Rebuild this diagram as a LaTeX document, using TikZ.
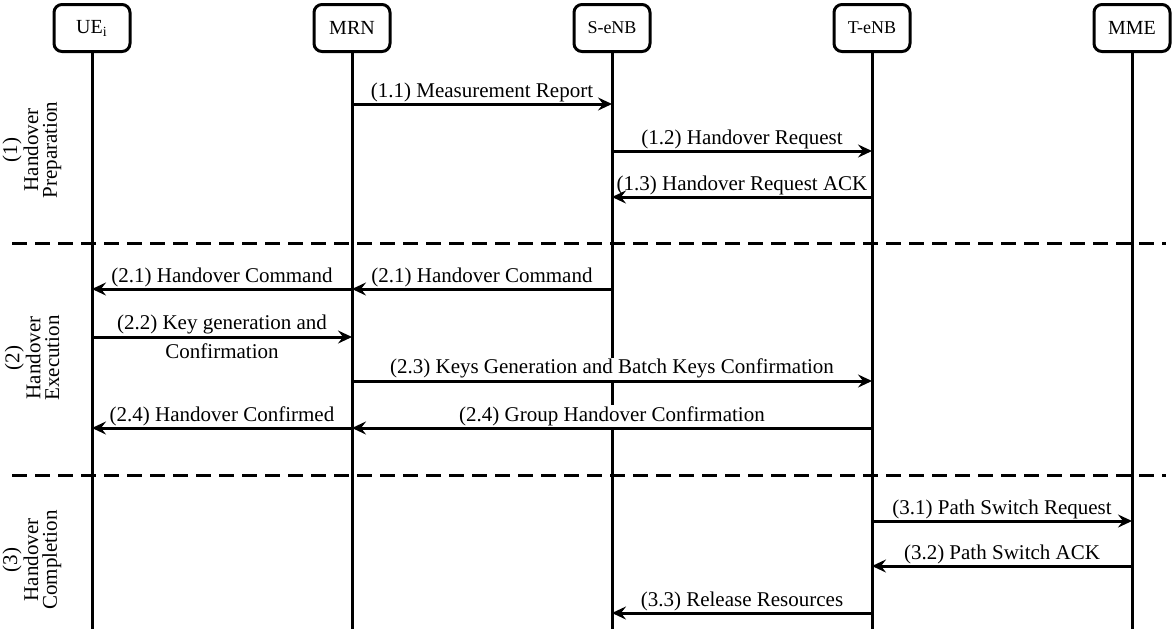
\documentclass[tikz,border=0pt]{standalone}
\usepackage{fontspec}
\setmainfont{Liberation Serif}
\usetikzlibrary{arrows.meta,calc}

\begin{document}
\begin{tikzpicture}[x=0.5pt, y=-0.5pt,
    actor/.style={draw, line width=1.5pt, rounded corners=4pt, minimum width=38pt, minimum height=23.5pt, inner sep=0pt, font=\fontsize{10}{12}\selectfont},
    life/.style={line width=1.5pt},
    msg/.style={line width=1.5pt, -{Stealth[length=7pt, width=6.5pt, inset=2.5pt]}},
    lbl/.style={fill=white, inner sep=0.5pt, behind path, font=\fontsize{10.5}{12.6}\selectfont},
    phase/.style={rotate=90, align=center, font=\fontsize{10.5}{9.4}\selectfont},
    sep/.style={line width=1.5pt, dash pattern=on 7.5pt off 4pt}]
    \useasboundingbox(0,0)rectangle(1174,629);
    \coordinate(bot)at(0,629);
    % entities
    \node[actor](ue)at(92,28){UE\textsubscript{i}};
    \node[actor](mrn)at(352,28){MRN};
    \node[actor, font=\fontsize{9}{11}\selectfont](senb)at(612,28){S-eNB};
    \node[actor, font=\fontsize{9}{11}\selectfont](tenb)at(872,28){T-eNB};
    \node[actor](mme)at(1132,28){MME};
    % lifelines
    \path[draw, life](ue)to(ue|-bot);
    \path[draw, life](mrn)to(mrn|-bot);
    \path[draw, life](senb)to(senb|-bot);
    \path[draw, life](tenb)to(tenb|-bot);
    \path[draw, life](mme)to(mme|-bot);
    % phases
    \node[phase](p1)at(32,150){(1)\\Handover\\Preparation};
    \node[phase](p2)at(32,358){(2)\\Handover\\Execution};
    \node[phase](p3)at(32,560){(3)\\Handover\\Completion};
    \coordinate(s1l)at(12,243); \coordinate(s1r)at(1166,243);
    \coordinate(s2l)at(12,475); \coordinate(s2r)at(1166,475);
    \path[draw, sep](s1l)to(s1r);
    \path[draw, sep](s2l)to(s2r);
    % message rows
    \coordinate(m11)at(0,104);
    \coordinate(m12)at(0,151);
    \coordinate(m13)at(0,197);
    \coordinate(m21)at(0,289);
    \coordinate(m22)at(0,337);
    \coordinate(m23)at(0,381);
    \coordinate(m24)at(0,428);
    \coordinate(m31)at(0,521);
    \coordinate(m32)at(0,566);
    \coordinate(m33)at(0,613);
    % (1) preparation
    \path[draw, msg](mrn|-m11)to node[lbl, above]{(1.1) Measurement Report}(senb|-m11);
    \path[draw, msg](senb|-m12)to node[lbl, above]{(1.2) Handover Request}(tenb|-m12);
    \path[draw, msg](tenb|-m13)to node[lbl, above]{(1.3) Handover Request ACK}(senb|-m13);
    % (2) execution
    \path[draw, msg](mrn|-m21)to node[lbl, above]{(2.1) Handover Command}(ue|-m21);
    \path[draw, msg](senb|-m21)to node[lbl, above]{(2.1) Handover Command}(mrn|-m21);
    \path[draw, msg](ue|-m22)to node[lbl, above]{(2.2) Key generation and} node[lbl, below, yshift=-2pt]{Confirmation}(mrn|-m22);
    \path[draw, msg](mrn|-m23)to node[lbl, above]{(2.3) Keys Generation and Batch Keys Confirmation}(tenb|-m23);
    \path[draw, msg](mrn|-m24)to node[lbl, above]{(2.4) Handover Confirmed}(ue|-m24);
    \path[draw, msg](tenb|-m24)to node[lbl, above]{(2.4) Group Handover Confirmation}(mrn|-m24);
    % (3) completion
    \path[draw, msg](tenb|-m31)to node[lbl, above]{(3.1) Path Switch Request}(mme|-m31);
    \path[draw, msg](mme|-m32)to node[lbl, above]{(3.2) Path Switch ACK}(tenb|-m32);
    \path[draw, msg](tenb|-m33)to node[lbl, above]{(3.3) Release Resources}(senb|-m33);
\end{tikzpicture}
\end{document}
